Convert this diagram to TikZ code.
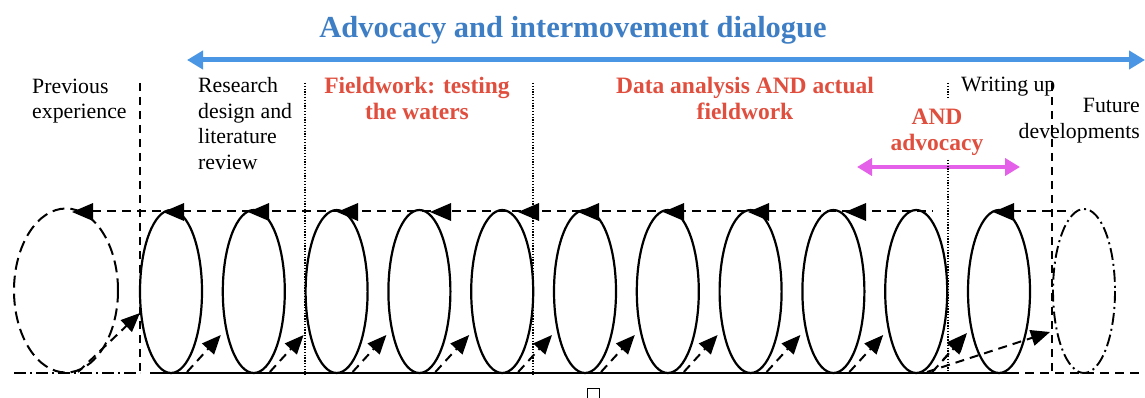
\documentclass[tikz,border=0pt]{standalone}
\usepackage{fontspec}
\setmainfont{Liberation Serif}
\usetikzlibrary{arrows.meta}
\definecolor{titleblue}{RGB}{62,126,196}
\definecolor{arrowblue}{RGB}{74,150,228}
\definecolor{redtxt}{RGB}{224,78,62}
\definecolor{magarrow}{RGB}{228,96,232}
\begin{document}
\begin{tikzpicture}[x=1pt,y=-1pt,
  lbl/.style={inner sep=0pt, font=\fontsize{21.8}{25.5}\selectfont},
  redlbl/.style={inner sep=0pt, text=redtxt, font=\fontsize{23.5}{26.5}\selectfont\bfseries},
  ringline/.style={line width=2.2pt},
  dashline/.style={line width=2pt, dash pattern=on 9pt off 6pt},
  vdash/.style={line width=2.4pt, dash pattern=on 8pt off 6pt},
  dotline/.style={line width=1.6pt, dash pattern=on 1.3pt off 1.5pt},
  dashdot/.style={line width=1.9pt, dash pattern=on 12pt off 4pt on 2pt off 4pt},
  uparrow/.style={dashline, -{Triangle[length=19pt,width=16pt]}},
  dblarrow/.style={{Triangle[length=16pt,width=18pt]}-{Triangle[length=16pt,width=18pt]}},
]
\useasboundingbox (0,0) rectangle (1145,398);

% title and blue double arrow
\node[anchor=base, inner sep=0pt, text=titleblue, font=\fontsize{30.5}{36}\selectfont\bfseries] (title) at (573,38) {Advocacy and intermovement dialogue};
\coordinate (bl) at (187,60);
\coordinate (br) at (1145,60);
\draw[arrowblue, line width=5pt, dblarrow] (bl) -- (br);

% labels
\node[lbl, anchor=north west, align=left] (prev) at (32,78.5) {Previous\\experience};
\node[lbl, anchor=north west, align=left] (research) at (198,77.5) {Research\\design and\\literature\\review};
\node[redlbl, anchor=north, align=center] (field) at (417,76.5) {Fieldwork: testing\\the waters};
\node[redlbl, anchor=north, align=center] (data) at (745,76.5) {Data analysis AND actual\\fieldwork};
\node[lbl, anchor=base west] (writing) at (961,92) {Writing up};
\node[redlbl, anchor=north, align=center] (andadv) at (937,108.5) {AND\\advocacy};
\node[lbl, anchor=north east, align=right] (future) at (1140,98.5) {Future\\developments};

% magenta double arrow
\coordinate (ml) at (857,167);
\coordinate (mr) at (1020,167);
\draw[magarrow, line width=4pt, {Triangle[length=15pt,width=17pt]}-{Triangle[length=15pt,width=17pt]}] (ml) -- (mr);

% vertical separators
\draw[vdash] (140,83) -- (140,375);
\draw[dotline] (305,83) -- (305,375);
\draw[dotline] (533,83) -- (533,375);
\draw[dotline] (948,83) -- (948,98);
\draw[dotline] (948,160) -- (948,375);
\draw[vdash] (1052,83) -- (1052,375);

% base lines
\draw[dashdot] (14,373) -- (140,373);
\draw[line width=2.2pt] (150,373) -- (1010,373);
\draw[dashline] (1010,373) -- (1145,373);
\draw[dashline] (92,211) -- (933,211);
\draw[dashline] (1012,211) -- (1072,211);

% loops
\draw[line width=2pt, dash pattern=on 12pt off 6pt] (66,290.5) ellipse [x radius=52, y radius=82];
\foreach \i in {0,...,10}{
  \draw[ringline] ({171+82.8*\i},291.5) ellipse [x radius=31, y radius=81.5];
}
\draw[dashdot] (1084,291) ellipse [x radius=31, y radius=82];

% top arrowheads
\foreach \t in {72,163,248,337,430,518,578,663,748,845,993}{
  \fill (\t,212) -- ++(21,-9) -- ++(0,18) -- cycle;
}

% bottom arrows
\draw[uparrow] (78,372) -- (140,313);
\foreach \i in {0,...,9}{
  \draw[uparrow] ({171+82.8*\i+16},372) -- ({171+82.8*(\i+1)-33},335);
}
\draw[uparrow] (943,360) -- (967,333);
\draw[uparrow] (927,372) -- (1050,332);

% small empty square
\draw[line width=0.8pt] (587,388) rectangle (599,399);
\end{tikzpicture}
\end{document}
